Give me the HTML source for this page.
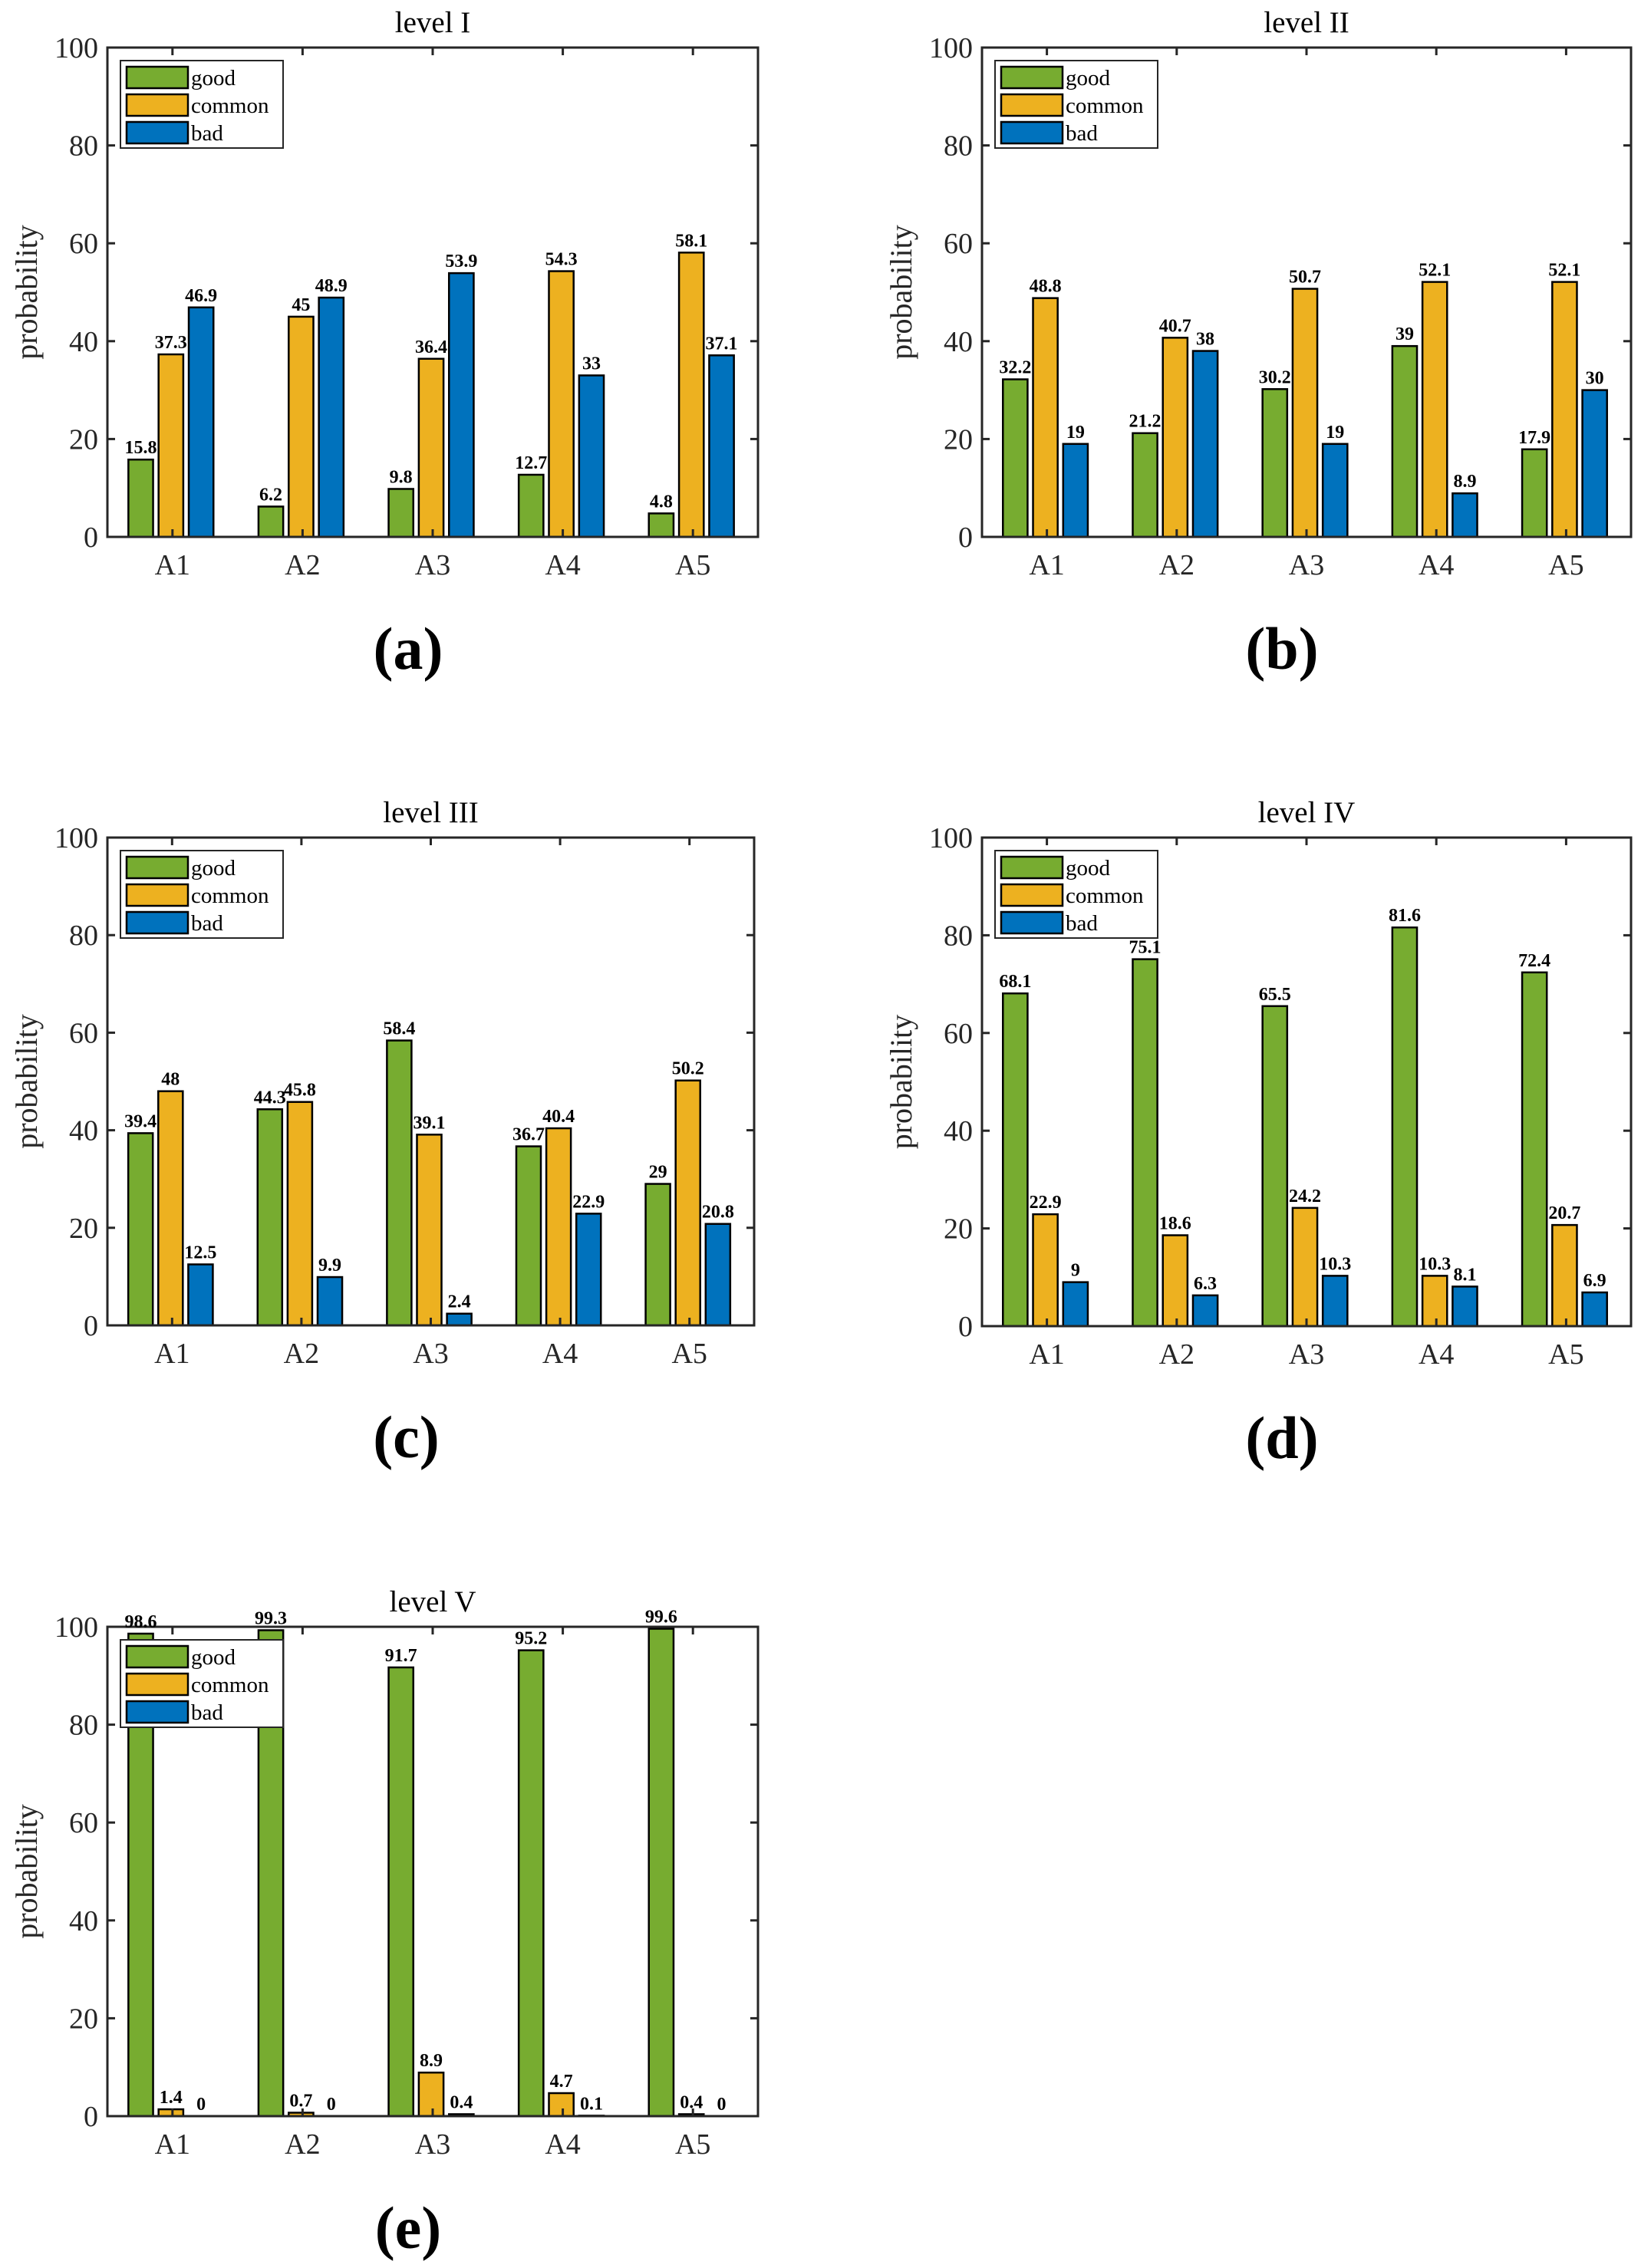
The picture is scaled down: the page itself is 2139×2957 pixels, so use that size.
<!DOCTYPE html>
<html><head><meta charset="utf-8">
<style>
html,body{margin:0;padding:0;background:#fff;}
svg{display:block;font-family:"Liberation Serif",serif;}
</style></head>
<body>
<svg id="fig" width="2139" height="2957" viewBox="0 0 2139 2957" xmlns="http://www.w3.org/2000/svg"></svg>
<script>
const categories = ["A1","A2","A3","A4","A5"];
const seriesNames = ["good","common","bad"];
const yTicks = [0,20,40,60,80,100];
const goodI = [15.8,6.2,9.8,12.7,4.8];
const commonI = [37.3,45,36.4,54.3,58.1];
const badI = [46.9,48.9,53.9,33,37.1];
const goodII = [32.2,21.2,30.2,39,17.9];
const commonII = [48.8,40.7,50.7,52.1,52.1];
const badII = [19,38,19,8.9,30];
const goodIII = [39.4,44.3,58.4,36.7,29];
const commonIII = [48,45.8,39.1,40.4,50.2];
const badIII = [12.5,9.9,2.4,22.9,20.8];
const goodIV = [68.1,75.1,65.5,81.6,72.4];
const commonIV = [22.9,18.6,24.2,10.3,20.7];
const badIV = [9,6.3,10.3,8.1,6.9];
const goodV = [98.6,99.3,91.7,95.2,99.6];
const commonV = [1.4,0.7,8.9,4.7,0.4];
const badV = [0,0,0.4,0.1,0];

const colors = ["#77AC30","#EDB120","#0072BD"];
const NS = "http://www.w3.org/2000/svg";
const svg = document.getElementById("fig");
function mk(tag, attrs, parent){
  const e = document.createElementNS(NS, tag);
  for (const k in attrs) e.setAttribute(k, attrs[k]);
  (parent||svg).appendChild(e); return e;
}
const panels = [
  {title:"level I", tag:"(a)", L:140,R:988,T:62,B:700, data:[goodI,commonI,badI]},
  {title:"level II", tag:"(b)", L:1280,R:2126,T:62,B:700, data:[goodII,commonII,badII]},
  {title:"level III", tag:"(c)", L:140,R:983,T:1092,B:1728, data:[goodIII,commonIII,badIII]},
  {title:"level IV", tag:"(d)", L:1280,R:2126,T:1092,B:1729, data:[goodIV,commonIV,badIV]},
  {title:"level V", tag:"(e)", L:140,R:988,T:2121,B:2759, data:[goodV,commonV,badV]}
];
panels.forEach((p, pi) => {
  const g = mk("g", {});
  
  
  const W = p.R - p.L, H = p.B - p.T;
  const ys = v => p.B - v/100*H;
  const gw = W/categories.length;
  const xc = i => p.L + (i+0.5)*gw;
  const bw = gw*0.19, off = gw*0.232;
  p.data.forEach((ser, si) => {
    ser.forEach((v, i) => {
      const x = xc(i) + (si-1)*off - bw/2 - 2;
      const r = mk("rect", {x:x, y:ys(v), width:bw, height:p.B-ys(v), fill:colors[si], stroke:"#000", "stroke-width":2.5}, g);
      
      
    });
  });
  const box = mk("rect", {x:p.L, y:p.T, width:W, height:H, fill:"none", stroke:"#262626", "stroke-width":3}, g);
  
  
  yTicks.forEach(t => {
    const y = ys(t);
    mk("line", {x1:p.L, x2:p.L+10, y1:y, y2:y, stroke:"#262626","stroke-width":3}, g);
    mk("line", {x1:p.R, x2:p.R-10, y1:y, y2:y, stroke:"#262626","stroke-width":3}, g);
    const tx = mk("text", {x:p.L-12, y:y+13, "text-anchor":"end", "font-size":38, fill:"#262626"}, g);
    tx.textContent = t;
    
    
  });
  categories.forEach((c, i) => {
    const x = xc(i);
    mk("line", {x1:x, x2:x, y1:p.B, y2:p.B-10, stroke:"#262626","stroke-width":3}, g);
    mk("line", {x1:x, x2:x, y1:p.T, y2:p.T+10, stroke:"#262626","stroke-width":3}, g);
    const tx = mk("text", {x:x, y:p.B+49, "text-anchor":"middle", "font-size":38, fill:"#262626"}, g);
    tx.textContent = c;
    
    
  });
  const lg = mk("g", {}, g);
  
  
  const lx = p.L+17, ly = p.T+17;
  mk("rect", {x:lx, y:ly, width:212, height:114, fill:"#fff", stroke:"#262626", "stroke-width":2}, lg);
  seriesNames.forEach((n, si) => {
    mk("rect", {x:lx+8, y:ly+8+si*36, width:80, height:28, fill:colors[si], stroke:"#000","stroke-width":2.5}, lg);
    const t = mk("text", {x:lx+92, y:ly+32+si*36, "font-size":29, fill:"#000"}, lg);
    t.textContent = n;
    
    
  });
  p.data.forEach((ser, si) => {
    ser.forEach((v, i) => {
      const x = xc(i) + (si-1)*off - 2;
      const t = mk("text", {x:x, y:ys(v)-8, "text-anchor":"middle", "font-size":24, "font-weight":"bold", fill:"#000"}, g);
      t.textContent = v;
      
      
    });
  });
  const ti = mk("text", {x:(p.L+p.R)/2, y:p.T-20, "text-anchor":"middle", "font-size":39, fill:"#000"}, g);
  ti.textContent = p.title;
  
  
  const yl = mk("text", {x:0, y:0, "text-anchor":"middle", "font-size":40, fill:"#262626", transform:`translate(${p.L-92},${(p.T+p.B)/2}) rotate(-90)`}, g);
  yl.textContent = "probability";
  
  
  const tg = mk("text", {x:(p.L+p.R)/2 - 32, y:p.B+172, "text-anchor":"middle", "font-size":78, "font-weight":"bold", fill:"#000"}, g);
  tg.textContent = p.tag;
  
  
});
</script>
</body></html>
